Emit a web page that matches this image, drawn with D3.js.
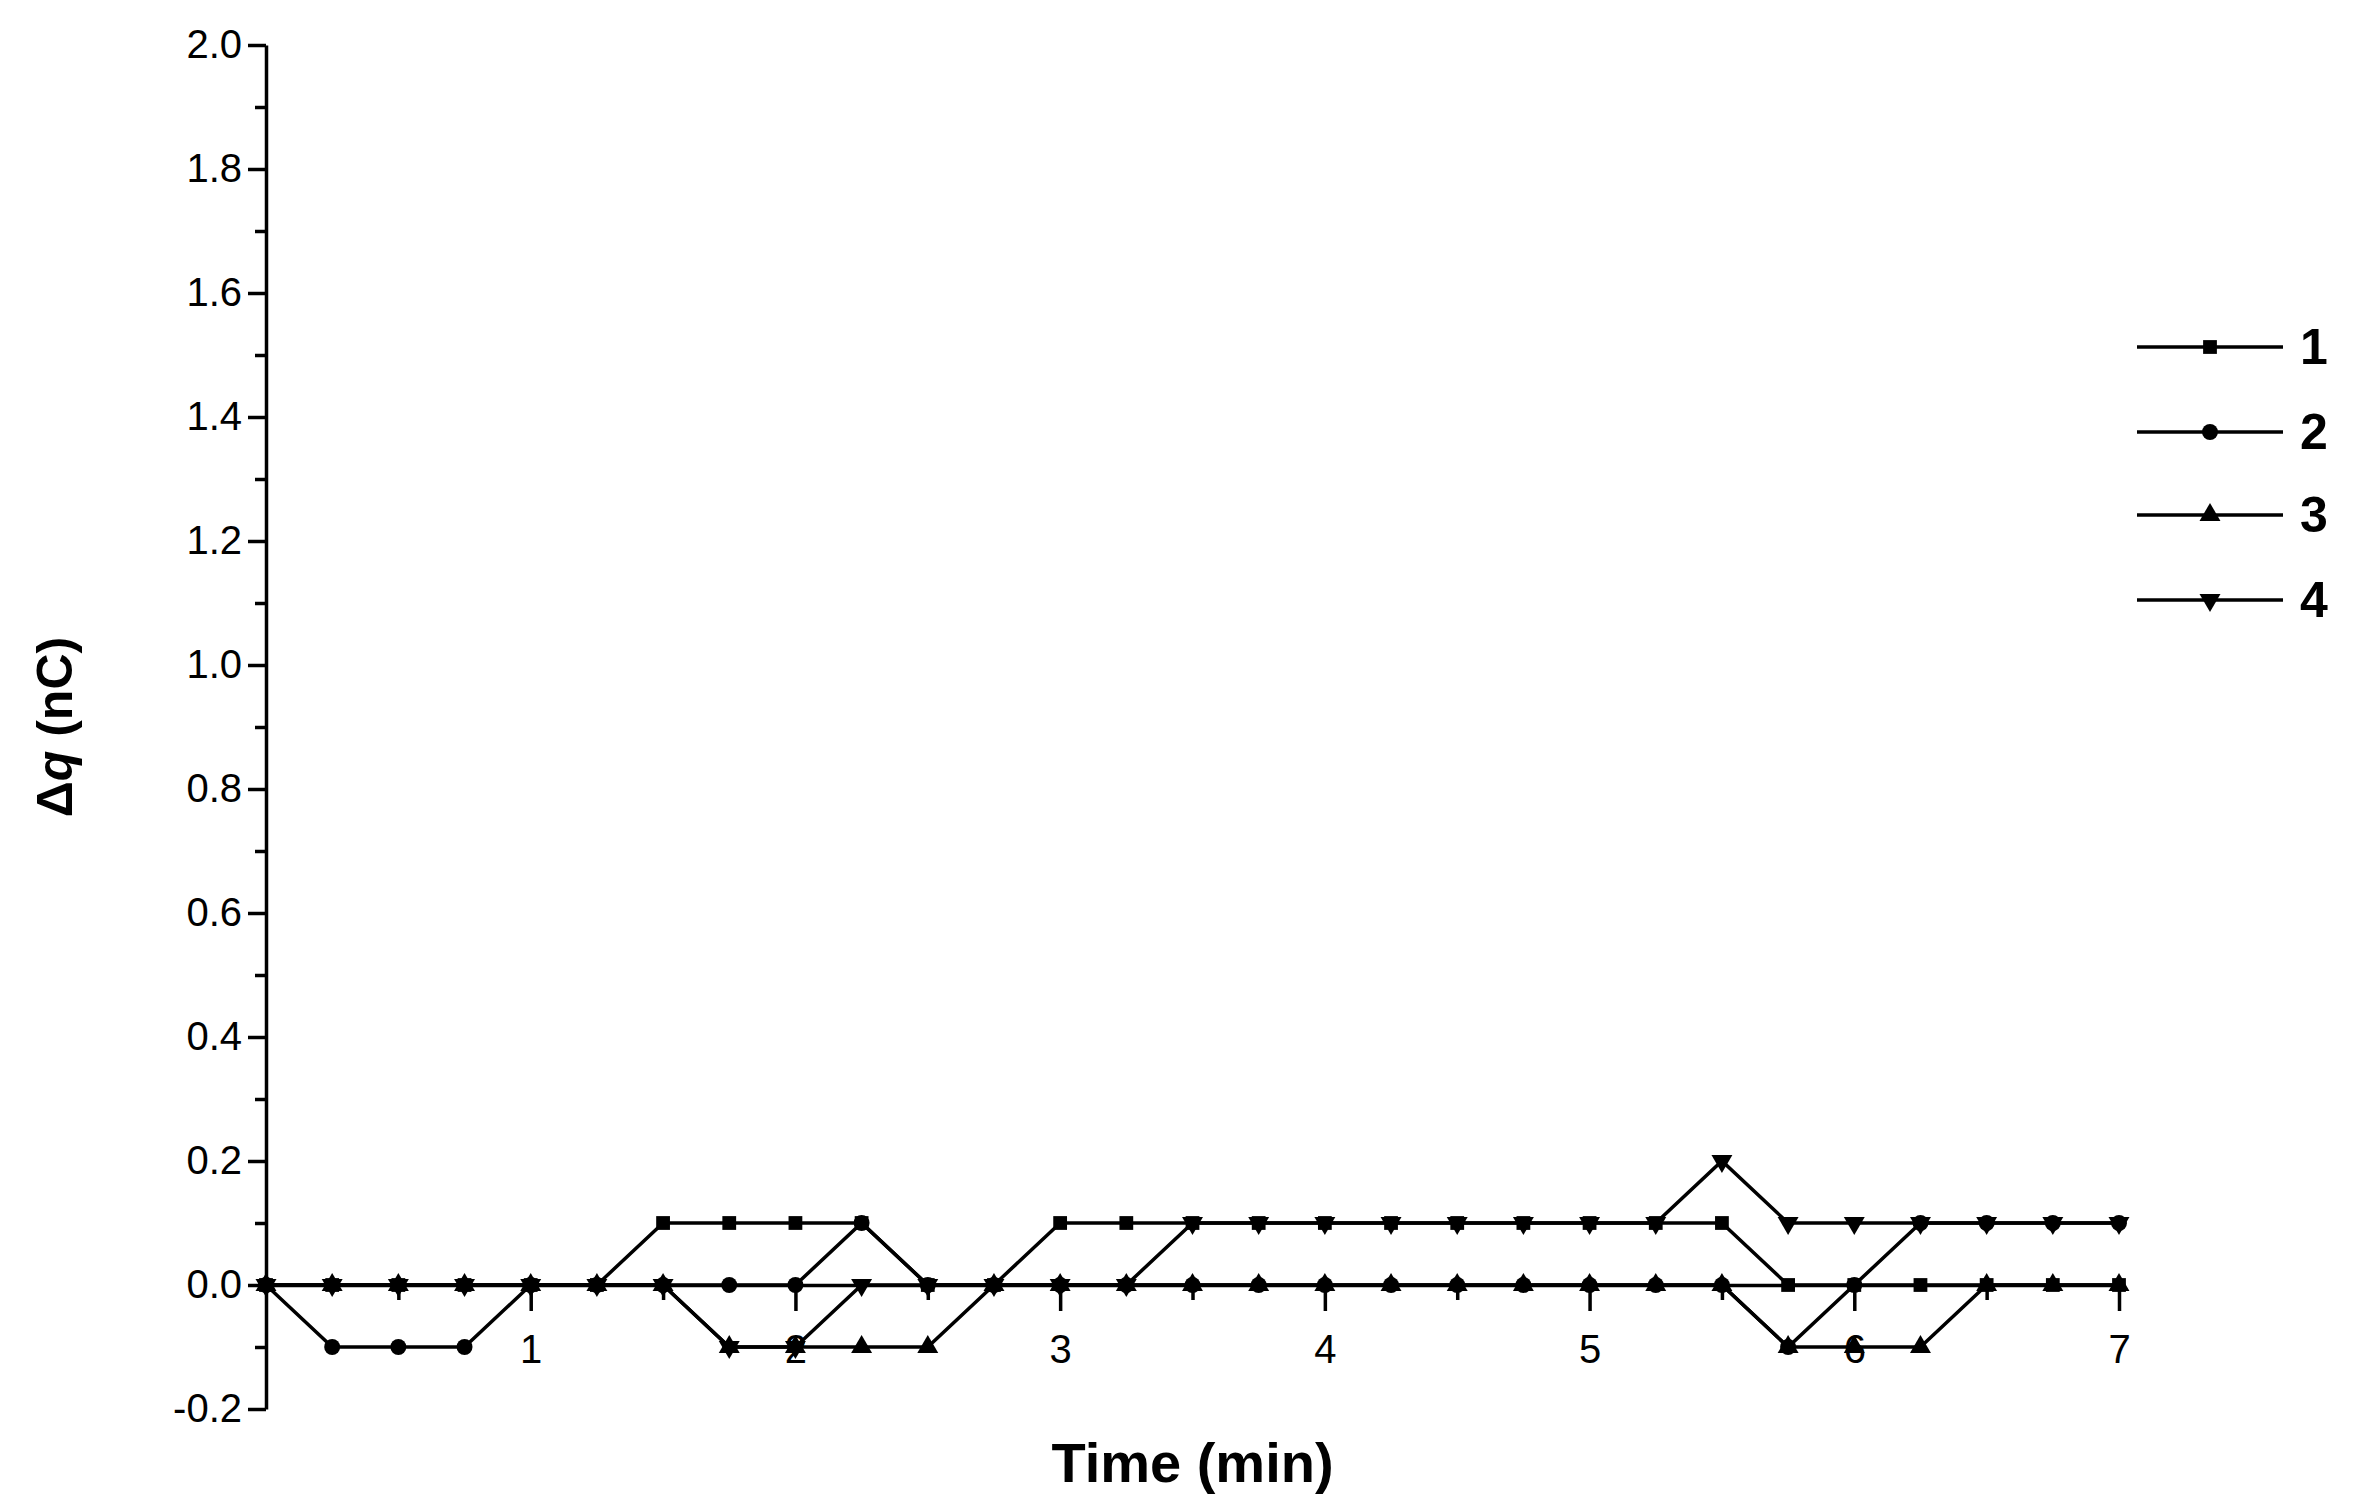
<!DOCTYPE html><html><head><meta charset="utf-8"><script src="https://cdn.jsdelivr.net/npm/d3@7"></script>
<style>body{margin:0;background:#fff}svg{font-family:"Liberation Sans",Arial,sans-serif}</style></head><body><svg id="c" width="2356" height="1507"></svg><script>
const times = d3.range(29).map(i => i * 0.25);
const s1 = [0,0,0,0,0,0,0.1,0.1,0.1,0.1,0,0,0.1,0.1,0.1,0.1,0.1,0.1,0.1,0.1,0.1,0.1,0.1,0,0,0,0,0,0];
const s2 = [0,-0.1,-0.1,-0.1,0,0,0,0,0,0.1,0,0,0,0,0,0,0,0,0,0,0,0,0,-0.1,0,0.1,0.1,0.1,0.1];
const s3 = [0,0,0,0,0,0,0,-0.1,-0.1,-0.1,-0.1,0,0,0,0,0,0,0,0,0,0,0,0,-0.1,-0.1,-0.1,0,0,0];
const s4 = [0,0,0,0,0,0,0,-0.1,-0.1,0,0,0,0,0,0.1,0.1,0.1,0.1,0.1,0.1,0.1,0.1,0.2,0.1,0.1,0.1,0.1,0.1,0.1];
const seriesNames = ["1","2","3","4"];
const seriesVals = [s1,s2,s3,s4];
const symbols = [d3.symbolSquare, d3.symbolCircle, d3.symbolTriangle, "down"];
const xTicks = [1,2,3,4,5,6,7];
const yTicks = d3.range(-0.2, 2.0001, 0.2);

const svg = d3.select("#c");
const x = d3.scaleLinear().domain([0,7]).range([266,2119]);
const y = d3.scaleLinear().domain([-0.2,2.0]).range([1409,45]);
const g = svg.append("g");

function sym(i, size){
  if (symbols[i] === "down") return d3.symbol(d3.symbolTriangle, size)();
  return d3.symbol(symbols[i], size)();
}
function drawMarker(sel, i, cx, cy){
  sel.append("path").attr("d", sym(i, i===1?200:190)).attr("fill","#000")
    .attr("transform", `translate(${cx},${cy})` + (symbols[i]==="down" ? " rotate(180)" : ""));
}
const fmt = d => d3.format(".1f")(d).replace("−","-");

const yAx = g.append("g").attr("transform",`translate(${x(0)},0)`)
  .call(d3.axisLeft(y).tickValues(yTicks).tickFormat(fmt).tickSize(18).tickSizeOuter(0));
g.append("g").attr("transform",`translate(${x(0)},0)`)
  .call(d3.axisLeft(y).tickValues(d3.range(-0.1,2.0,0.2)).tickFormat("").tickSize(11).tickSizeOuter(0))
  .select(".domain").remove();
const xAx = g.append("g").attr("transform",`translate(0,${y(0)})`)
  .call(d3.axisBottom(x).tickValues(xTicks).tickFormat(d3.format("d")).tickSize(26).tickSizeOuter(0));
g.append("g").attr("transform",`translate(0,${y(0)})`)
  .call(d3.axisBottom(x).tickValues(d3.range(0.5,7,1)).tickFormat("").tickSize(15).tickSizeOuter(0))
  .select(".domain").remove();
g.selectAll(".domain, .tick line").attr("stroke","#000").attr("stroke-width",3.5);
yAx.selectAll("text").attr("font-size",40).attr("fill","#000").attr("x",-24);
xAx.selectAll("text").attr("font-size",40).attr("fill","#000").attr("y",50);

const line = d3.line().x((d,j)=>x(times[j])).y(d=>y(d));
seriesVals.forEach((vals,i)=>{
  g.append("path").attr("d", line(vals)).attr("fill","none").attr("stroke","#000").attr("stroke-width",3.5);
  vals.forEach((v,j)=>drawMarker(g,i,x(times[j]),y(v)));
});

const legY = [347,432,515,600];
seriesNames.forEach((n,i)=>{
  const lg = svg.append("g");
  lg.append("line").attr("x1",2137).attr("x2",2283).attr("y1",legY[i]).attr("y2",legY[i]).attr("stroke","#000").attr("stroke-width",3.5);
  drawMarker(lg,i,2210,legY[i]);
  lg.append("text").attr("x",2300).attr("y",legY[i]+17).attr("font-size",50).attr("font-weight","bold").text(n);
});

svg.append("text").attr("x",(x(0)+x(7))/2).attr("y",1482).attr("text-anchor","middle")
  .attr("font-size",56).attr("font-weight","bold").text("Time (min)");
const yt = svg.append("text").attr("transform",`translate(72,${y(0.9)}) rotate(-90)`).attr("text-anchor","middle")
  .attr("font-size",50).attr("font-weight","bold");
yt.append("tspan").text("Δ");
yt.append("tspan").attr("font-style","italic").text("q");
yt.append("tspan").text(" (nC)");
</script></body></html>
